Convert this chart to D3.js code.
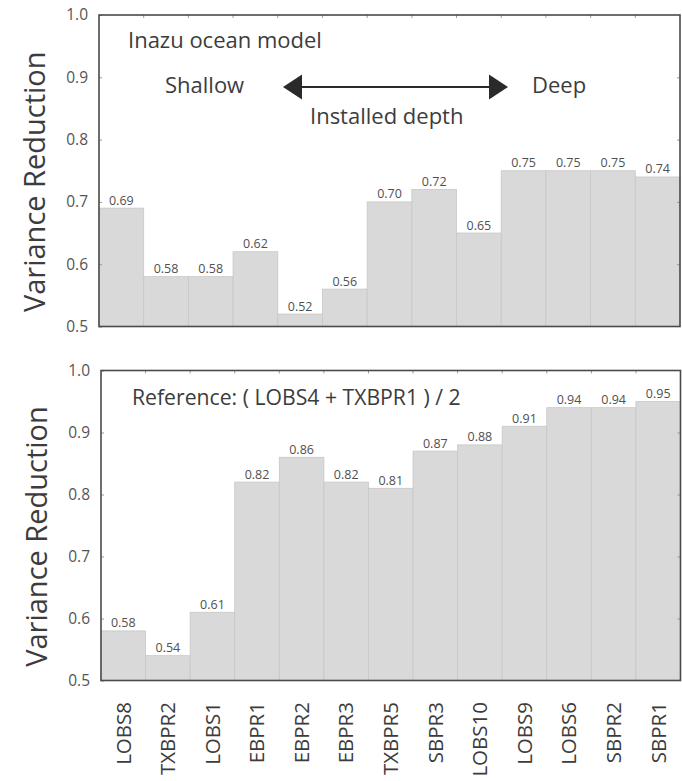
<!DOCTYPE html>
<html>
<head>
<meta charset="utf-8">
<script src="https://cdn.jsdelivr.net/npm/d3@7"></script>
<style>
  html, body { margin: 0; padding: 0; background: #fff; }
  svg { display: block; }
  text { font-family: "Open Sans", "DejaVu Sans", sans-serif; }
</style>
</head>
<body>
<svg id="chart" width="682" height="781"></svg>
<script>
// Stations ordered by installed depth (shallow -> deep)
const stations = ["LOBS8", "TXBPR2", "LOBS1", "EBPR1", "EBPR2", "EBPR3", "TXBPR5",
                  "SBPR3", "LOBS10", "LOBS9", "LOBS6", "SBPR2", "SBPR1"];
// Variance reduction, Inazu ocean model
const inazuVR = [0.69, 0.58, 0.58, 0.62, 0.52, 0.56, 0.70, 0.72, 0.65, 0.75, 0.75, 0.75, 0.74];
// Variance reduction, reference model ( LOBS4 + TXBPR1 ) / 2
const referenceVR = [0.58, 0.54, 0.61, 0.82, 0.86, 0.82, 0.81, 0.87, 0.88, 0.91, 0.94, 0.94, 0.95];
// Shared y axis
const yDomain = [0.5, 1.0];
const yTicks = [0.5, 0.6, 0.7, 0.8, 0.9, 1.0];
const yTitle = "Variance Reduction";

const svg = d3.select("#chart");
const fmt2 = d3.format(".2f");
const fmt1 = d3.format(".1f");

const BAR_FILL = "#d9d9d9";
const BAR_EDGE = "#c7c7c7";
const FRAME = "#4a4a4a";
const TEXT = "#3c3c3c";

function panel(box, values) {
  const x = d3.scaleBand().domain(stations).range([box.left, box.right]).padding(0);
  const y = d3.scaleLinear().domain(yDomain).range([box.bottom, box.top]);
  const g = svg.append("g");

  // bars
  g.append("g").selectAll("rect")
    .data(values)
    .join("rect")
    .attr("x", (d, i) => x(stations[i]))
    .attr("width", x.bandwidth())
    .attr("y", d => y(d))
    .attr("height", d => y(yDomain[0]) - y(d))
    .attr("fill", BAR_FILL)
    .attr("stroke", BAR_EDGE)
    .attr("stroke-width", 0.8);

  // value labels
  g.append("g").selectAll("text")
    .data(values)
    .join("text")
    .attr("x", (d, i) => x(stations[i]) + x.bandwidth() / 2)
    .attr("y", d => y(d) - 3.5)
    .attr("text-anchor", "middle")
    .attr("font-size", 12.5)
    .attr("fill", "#505050")
    .text(d => fmt2(d));

  // left axis with inward ticks
  const left = g.append("g")
    .attr("transform", `translate(${box.left},0)`)
    .call(d3.axisLeft(y).tickValues(yTicks).tickFormat(fmt1).tickSizeInner(-3).tickSizeOuter(0).tickPadding(11));
  left.select(".domain").remove();
  left.selectAll(".tick line").attr("stroke", "#9a9a9a");
  left.selectAll(".tick text").attr("font-size", 15.5).attr("fill", "#555").attr("font-family", "Open Sans");

  // right axis: mirrored inward ticks only
  const right = g.append("g")
    .attr("transform", `translate(${box.right},0)`)
    .call(d3.axisRight(y).tickValues(yTicks.slice(1, -1)).tickFormat("").tickSizeInner(-3).tickSizeOuter(0));
  right.select(".domain").remove();
  right.selectAll(".tick line").attr("stroke", "#9a9a9a");

  // top axis: inward ticks at band boundaries
  const bounds = stations.slice(1).map(s => x(s));
  g.append("g").selectAll("line")
    .data(bounds)
    .join("line")
    .attr("x1", d => d).attr("x2", d => d)
    .attr("y1", box.top).attr("y2", box.top + 3)
    .attr("stroke", "#9a9a9a");

  // frame
  g.append("rect")
    .attr("x", box.left).attr("y", box.top)
    .attr("width", box.right - box.left).attr("height", box.bottom - box.top)
    .attr("fill", "none").attr("stroke", FRAME).attr("stroke-width", 1.6);

  // y title
  g.append("text")
    .attr("transform", `translate(${box.left - 54},${(box.top + box.bottom) / 2 + 11}) rotate(-90)`)
    .attr("text-anchor", "middle")
    .attr("font-size", 29)
    .attr("fill", TEXT)
    .text(yTitle);

  return { x, y, g };
}

const upper = panel({ left: 99, right: 680, top: 15, bottom: 326.5 }, inazuVR);
const lower = panel({ left: 101, right: 680.5, top: 370.5, bottom: 680.5 }, referenceVR);

// annotations, upper panel
const ann = upper.g.append("g").attr("fill", TEXT).attr("font-size", 22);
ann.append("text").attr("x", 128).attr("y", 48).text("Inazu ocean model");
ann.append("text").attr("x", 165).attr("y", 93).text("Shallow");
ann.append("text").attr("x", 532).attr("y", 93).text("Deep");
ann.append("text").attr("x", 310).attr("y", 124).text("Installed depth");

// double-headed arrow for installed depth
const ay = 87, ax0 = 283, ax1 = 508, head = 19, half = 12.5;
upper.g.append("line")
  .attr("x1", ax0 + head - 2).attr("x2", ax1 - head + 2)
  .attr("y1", ay).attr("y2", ay)
  .attr("stroke", "#2a2a2a").attr("stroke-width", 2.2);
upper.g.append("path")
  .attr("d", `M${ax0},${ay} L${ax0 + head},${ay - half} L${ax0 + head},${ay + half} Z`)
  .attr("fill", "#2a2a2a");
upper.g.append("path")
  .attr("d", `M${ax1},${ay} L${ax1 - head},${ay - half} L${ax1 - head},${ay + half} Z`)
  .attr("fill", "#2a2a2a");

// annotation, lower panel
lower.g.append("text").attr("x", 132).attr("y", 405).attr("font-size", 21.2).attr("fill", TEXT)
  .text("Reference: ( LOBS4 + TXBPR1 ) / 2");

// station labels below lower panel, rotated
svg.append("g").selectAll("text")
  .data(stations)
  .join("text")
  .attr("transform", d => `translate(${lower.x(d) + lower.x.bandwidth() / 2 + 7.3},702) rotate(-90)`)
  .attr("text-anchor", "end")
  .attr("font-size", 20.5)
  .attr("fill", TEXT)
  .text(d => d);
</script>
</body>
</html>
